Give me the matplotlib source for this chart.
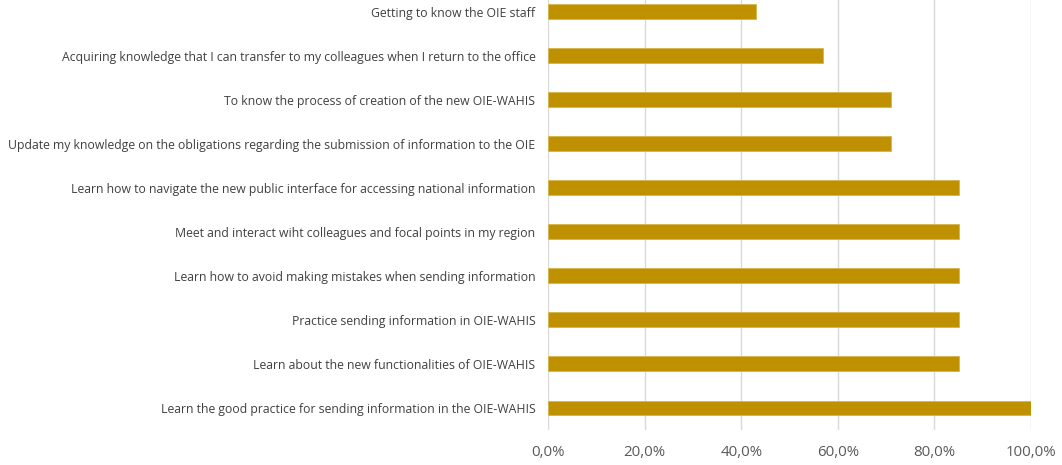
import matplotlib
matplotlib.use("Agg")
import matplotlib.pyplot as plt
from matplotlib.ticker import FuncFormatter

plt.rcParams["font.family"] = ["Open Sans", "DejaVu Sans"]

# bottom to top
items = [
    "Learn the good practice for sending information in the OIE-WAHIS",
    "Learn about the new functionalities of OIE-WAHIS",
    "Practice sending information in OIE-WAHIS",
    "Learn how to avoid making mistakes when sending information",
    "Meet and interact wiht colleagues and focal points in my region",
    "Learn how to navigate the new public interface for accessing national information",
    "Update my knowledge on the obligations regarding the submission of information to the OIE",
    "To know the process of creation of the new OIE-WAHIS",
    "Acquiring knowledge that I can transfer to my colleagues when I return to the office",
    "Getting to know the OIE staff",
]
shares = [1.00, 0.85, 0.85, 0.85, 0.85, 0.85, 0.71, 0.71, 0.57, 0.43]
x_ticks = [0, 0.2, 0.4, 0.6, 0.8, 1.0]

BAR = "#BF9000"
TXT = "#404040"

W, H = 1062, 465
fig = plt.figure(figsize=(W / 100, H / 100), dpi=100)
fig.patch.set_facecolor("white")
ax = fig.add_axes([548 / W, 35 / H, (1031 - 548) / W, 430 / H])

y = range(len(items))
ax.barh(y, shares, height=0.34, color=BAR, edgecolor="#D9B44A", linewidth=0.6, zorder=3)

ax.set_xlim(0, 1.0)
ax.set_ylim(-0.5, 9.27)
ax.set_xticks(x_ticks)
ax.xaxis.set_major_formatter(FuncFormatter(lambda v, p: f"{v*100:.1f}%".replace(".", ",")))
ax.set_yticks(list(y))
ax.set_yticklabels(items, fontsize=8.8, color=TXT)
ax.tick_params(axis="y", length=0, pad=9)
ax.tick_params(axis="x", length=0, pad=11, labelsize=10.8, labelcolor="#595959")

ax.xaxis.grid(True, color="#D9D9D9", linewidth=1, zorder=0)
for s in ax.spines.values():
    s.set_visible(False)

fig.savefig("out.png", dpi=100, facecolor="white")
